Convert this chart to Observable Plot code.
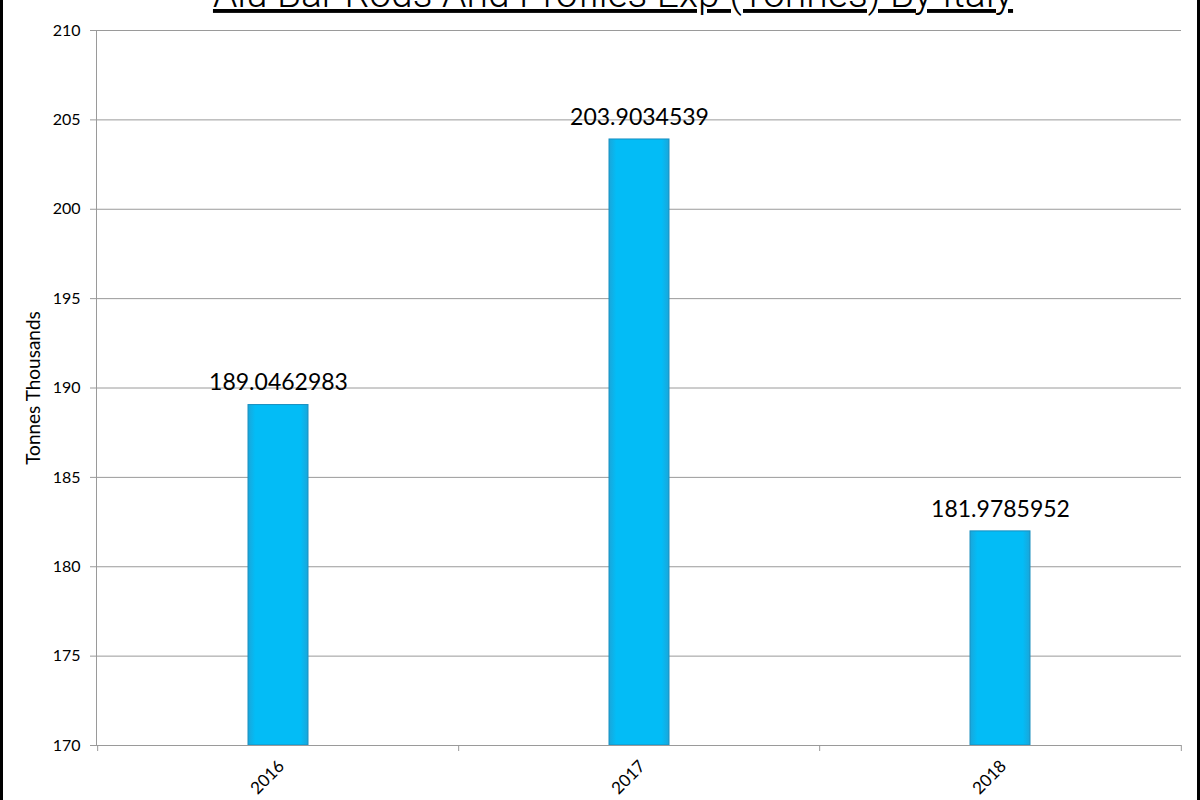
<!DOCTYPE html>
<html>
<head>
<meta charset="utf-8">
<script src="https://cdn.jsdelivr.net/npm/d3@7"></script>
<script src="https://cdn.jsdelivr.net/npm/@observablehq/plot@0.6"></script>
<style>
  html, body { margin: 0; padding: 0; background: #fff; }
  #wrap { position: relative; width: 1200px; height: 800px; overflow: hidden; }
  .bl { position: absolute; top: 0; bottom: 0; width: 3px; background: #000; }
</style>
</head>
<body>
<div id="wrap">
  <div class="bl" style="left:0"></div>
  <div class="bl" style="right:0"></div>
</div>
<script>
const title = "Alu Bar Rods And Profiles Exp (Tonnes) By Italy";
const yLabel = "Tonnes Thousands";
const years = ["2016", "2017", "2018"];
const values = [189.0462983, 203.9034539, 181.9785952];
const valueLabels = ["189.0462983", "203.9034539", "181.9785952"];
const yDomain = [170, 210];
const yTicks = [170, 175, 180, 185, 190, 195, 200, 205, 210];

const data = years.map((y, i) => ({year: y, value: values[i], label: valueLabels[i]}));

const W = 1200, H = 800;
const mL = 96, mR = 19, mT = 30, mB = 55;
const step = (W - mL - mR) / years.length;
const font = "Lato, 'Noto Sans', sans-serif";

const chart = Plot.plot({
  width: W,
  height: H,
  marginLeft: mL,
  marginRight: mR,
  marginTop: mT,
  marginBottom: mB,
  style: {fontFamily: font, fontSize: "16px", color: "#000", background: "transparent", overflow: "visible"},
  x: {domain: years, paddingInner: 0.834, paddingOuter: 0.417},
  y: {domain: yDomain},
  marks: [
    Plot.gridY(yTicks, {stroke: "#9a9a9a", strokeOpacity: 1, strokeWidth: 1}),
    Plot.frame({anchor: "left", stroke: "#9a9a9a"}),
    Plot.axisY(yTicks, {tickSize: 6, tickPadding: 10, stroke: "#9a9a9a", label: null, fontSize: 16, fill: "#000"}),
    Plot.axisY({ticks: [], tickSize: 0, label: yLabel, labelAnchor: "center", labelArrow: "none", labelOffset: 70, fontSize: 19, fill: "#000"}),
    Plot.barY(data, {
      x: "year",
      y1: () => yDomain[0],
      y2: "value",
      fill: "url(#barGrad)",
      stroke: "#1a8fc0",
      strokeWidth: 1
    }),
    Plot.text(data, {
      x: "year",
      y: "value",
      text: "label",
      dy: -22,
      fontSize: 23,
      fill: "#000"
    }),
    Plot.ruleY([yDomain[0]], {stroke: "#9a9a9a"}),
    Plot.axisX(years, {tickSize: 6, dx: -step / 2, text: null, stroke: "#9a9a9a", label: null}),
    Plot.axisX([years[years.length - 1]], {tickSize: 6, dx: step / 2, text: null, stroke: "#9a9a9a", label: null}),
    Plot.axisX(years, {tickSize: 0, tickPadding: 10, tickRotate: -45, dx: 3, dy: 8, fontSize: 17, fill: "#000", label: null})
  ]
});

// gradient for bevelled bars
const svg = d3.select(chart);
const defs = svg.insert("defs", ":first-child");
const g = defs.append("linearGradient").attr("id", "barGrad").attr("x1", "0").attr("x2", "1").attr("y1", "0").attr("y2", "0");
g.append("stop").attr("offset", "0%").attr("stop-color", "#1aa6da");
g.append("stop").attr("offset", "12%").attr("stop-color", "#03bcf6");
g.append("stop").attr("offset", "88%").attr("stop-color", "#03bcf6");
g.append("stop").attr("offset", "100%").attr("stop-color", "#1aa6da");

// title (partly above the top edge, as in the reference)
svg.append("text")
  .attr("x", 613)
  .attr("y", 7)
  .attr("text-anchor", "middle")
  .attr("font-family", "Roboto, 'Liberation Sans', sans-serif")
  .attr("font-size", 39)
  .attr("font-weight", 300)
  .attr("fill", "#000")
  .style("text-decoration", "underline")
  .text(title);

chart.style.position = "absolute";
chart.style.left = "0";
chart.style.top = "0";
document.getElementById("wrap").prepend(chart);
</script>
</body>
</html>
